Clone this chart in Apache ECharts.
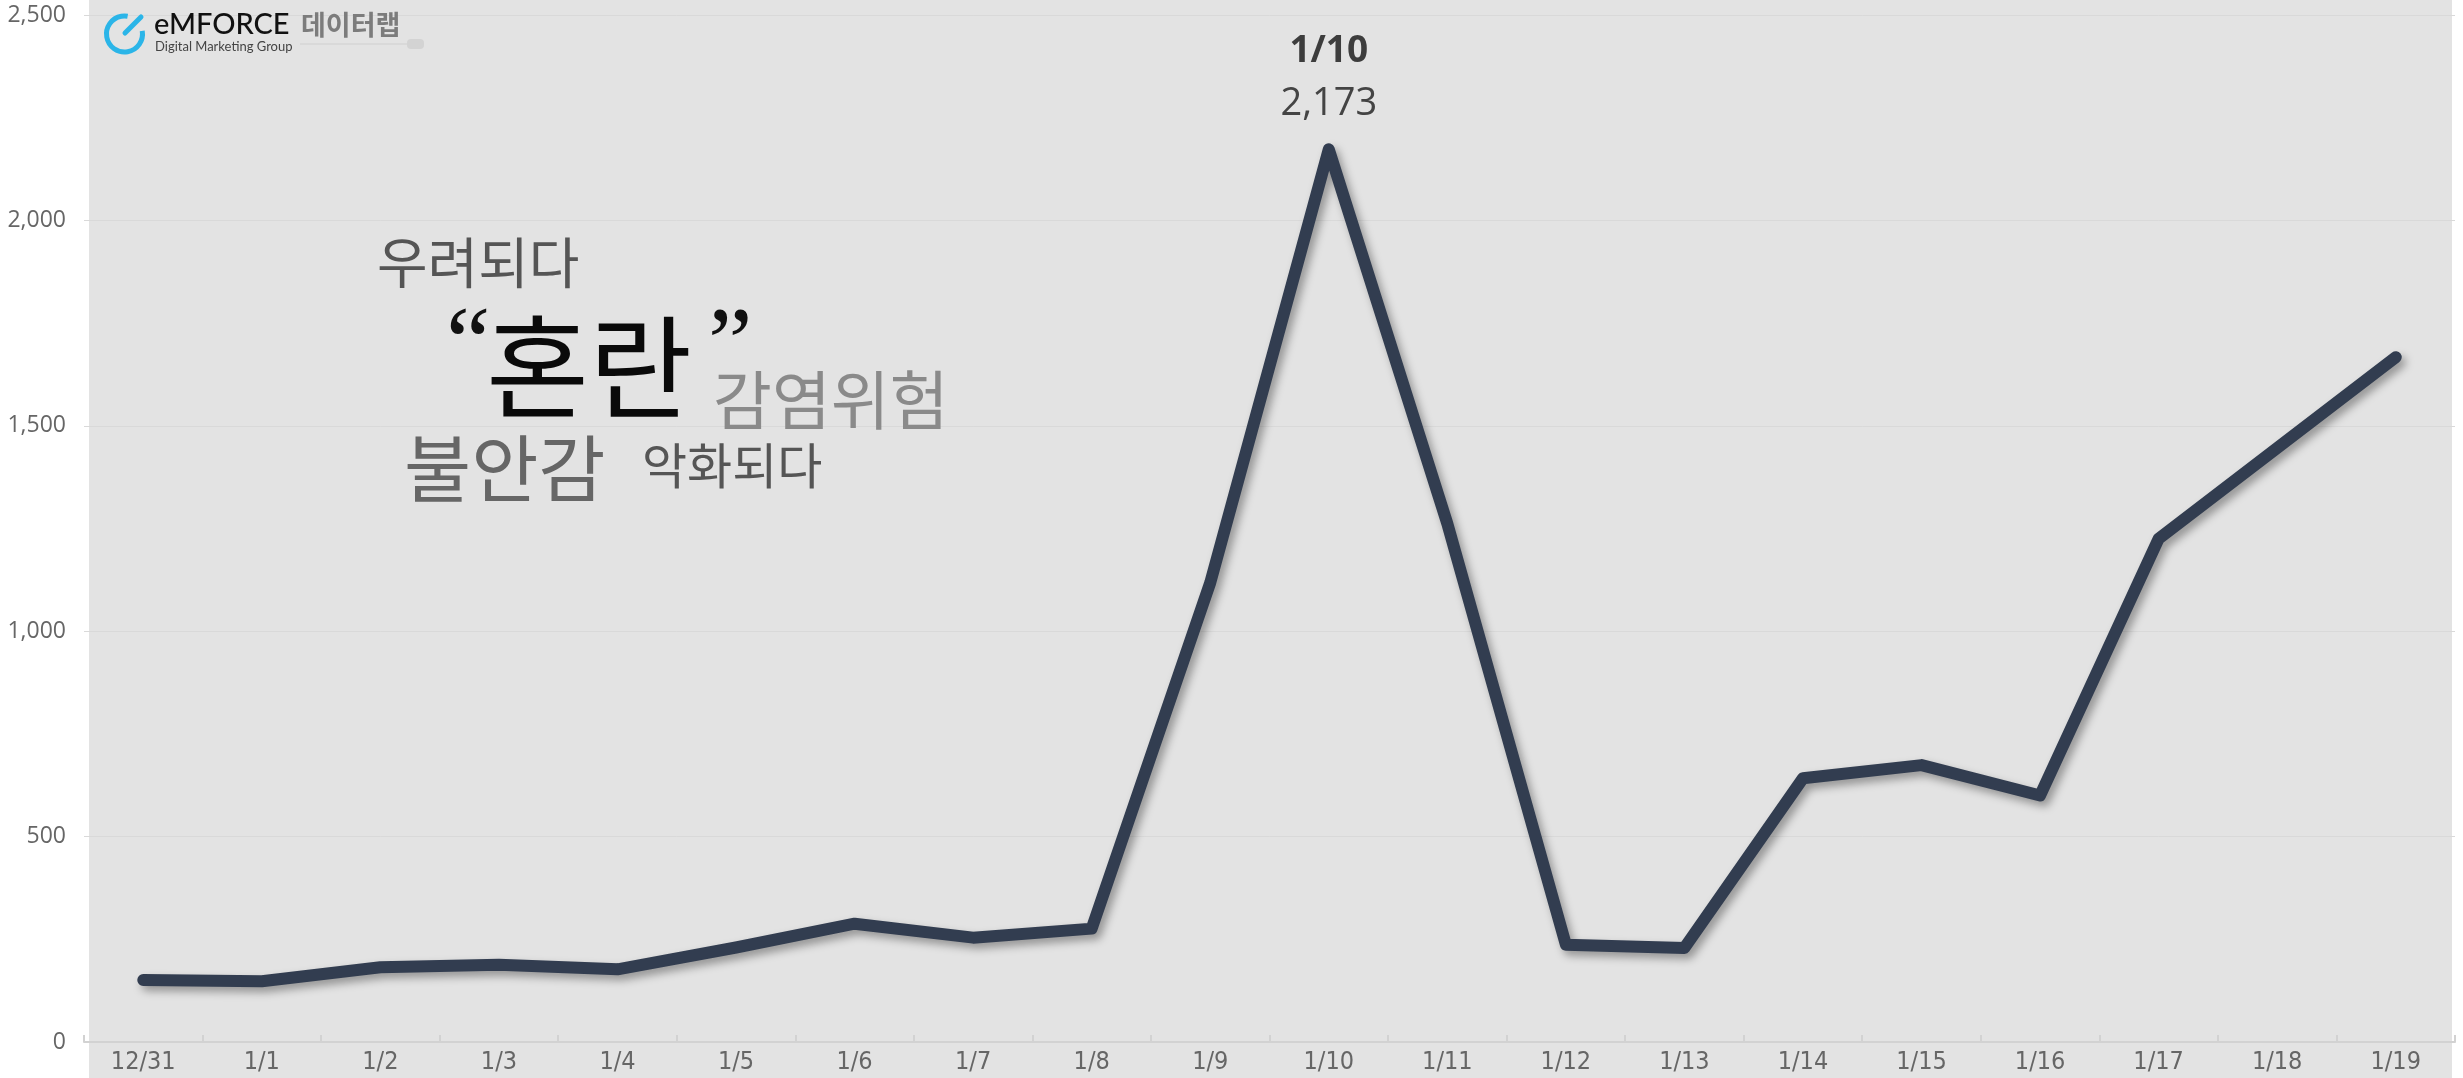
<!DOCTYPE html>
<html>
<head>
<meta charset="utf-8">
<script src="https://cdn.jsdelivr.net/npm/echarts@6/dist/echarts.min.js"></script>
<style>
html,body{margin:0;padding:0;background:#ffffff;}
#chart{width:2463px;height:1078px;}
</style>
</head>
<body>
<div id="chart"></div>
<script>
// ---- data ----
var categories = ['12/31','1/1','1/2','1/3','1/4','1/5','1/6','1/7','1/8','1/9','1/10','1/11','1/12','1/13','1/14','1/15','1/16','1/17','1/18','1/19'];
var mentions = [151, 148, 182, 188, 177, 230, 288, 254, 276, 1118, 2173, 1262, 237, 229, 642, 674, 600, 1225, 1446, 1667];
var yTicks = [0, 500, 1000, 1500, 2000, 2500];
var keywords = ['우려되다', '혼란', '감염위험', '불안감', '악화되다'];

var peakIdx = mentions.indexOf(Math.max.apply(null, mentions));
function fmt(v){ return v.toString().replace(/\B(?=(\d{3})+(?!\d))/g, ','); }

var chart = echarts.init(document.getElementById('chart'), null, {renderer: 'canvas'});
var option = {
  backgroundColor: '#ffffff',
  animation: false,
  grid: {left: 84, right: 8, top: 15, bottom: 36, containLabel: false, outerBoundsMode: 'none'},
  xAxis: {
    type: 'category',
    data: categories,
    boundaryGap: true,
    axisLine: {show: true, lineStyle: {color: '#d2d2d2', width: 2}},
    axisTick: {show: true, inside: true, length: 7, lineStyle: {color: '#d2d2d2', width: 2}},
    axisLabel: {interval: 0, margin: 8, color: '#666666', fontSize: 25, fontFamily: 'DejaVu Sans Condensed, Liberation Sans Narrow, Roboto, sans-serif', fontWeight: 'normal'}
  },
  yAxis: {
    type: 'value',
    min: yTicks[0],
    max: yTicks[yTicks.length - 1],
    interval: yTicks[1] - yTicks[0],
    axisLine: {show: false},
    axisTick: {show: false},
    axisLabel: {margin: 18, color: '#666666', fontSize: 23, fontFamily: 'Open Sans', formatter: function(v){ return fmt(v); }},
    splitLine: {show: true, lineStyle: {color: '#d9d9d9', width: 1}}
  },
  series: [{
    type: 'line',
    data: mentions,
    showSymbol: false,
    symbol: 'none',
    z: 5,
    lineStyle: {
      color: '#323d50', width: 12, cap: 'round', join: 'round',
      shadowColor: 'rgba(0,0,0,0.35)', shadowBlur: 8, shadowOffsetX: 4, shadowOffsetY: 5
    },
    emphasis: {disabled: true},
    markPoint: {
      silent: true,
      symbol: 'circle',
      symbolSize: 1,
      itemStyle: {color: 'rgba(0,0,0,0)'},
      data: [{
        coord: [peakIdx, mentions[peakIdx]],
        value: mentions[peakIdx],
        label: {
          show: true,
          position: 'top',
          distance: 18,
          formatter: function(){ return '{d|' + categories[peakIdx] + '}\n{v|' + fmt(mentions[peakIdx]) + '}'; },
          rich: {
            d: {fontFamily: 'Open Sans', fontWeight: 'bold', fontSize: 37, color: '#3d3d3d', lineHeight: 53, align: 'center'},
            v: {fontFamily: 'Open Sans', fontSize: 38, color: '#444444', lineHeight: 53, align: 'center'}
          }
        }
      }]
    }
  }],
  graphic: [
    {type: 'rect', silent: true, z: -100, shape: {x: 89, y: 0, width: 2363, height: 1078}, style: {fill: '#e3e3e3'}},
    // logo
    {type: 'arc', silent: true, z: 10, shape: {cx: 124.5, cy: 34, r: 18, startAngle: -10 * Math.PI / 180, endAngle: 280 * Math.PI / 180, clockwise: true}, style: {stroke: '#2bb5e8', lineWidth: 5, fill: null}},
    {type: 'line', silent: true, z: 10, shape: {x1: 125, y1: 33, x2: 141, y2: 17}, style: {stroke: '#2bb5e8', lineWidth: 5, lineCap: 'round'}},
    {type: 'text', silent: true, z: 10, x: 154, y: 25, style: {text: 'eMFORCE', font: '500 29px Lato', fill: '#111111', align: 'left', verticalAlign: 'middle'}},
    {type: 'text', silent: true, z: 10, x: 155, y: 47, style: {text: 'Digital Marketing Group', font: '13px Lato', fill: '#444444', align: 'left', verticalAlign: 'middle'}},
    {type: 'text', silent: true, z: 10, x: 301, y: 25, style: {text: '데이터랩', font: 'bold 27px "Noto Sans CJK KR"', fill: '#7c7c7c', align: 'left', verticalAlign: 'middle'}},
    {type: 'line', silent: true, z: 10, shape: {x1: 300, y1: 44, x2: 410, y2: 44}, style: {stroke: '#cfcfcf', lineWidth: 1}},
    {type: 'rect', silent: true, z: 10, shape: {x: 407, y: 39, width: 17, height: 10, r: 4}, style: {fill: '#d3d3d3'}},
    // keyword annotations
    {type: 'text', silent: true, z: 10, x: 377, y: 262, style: {text: keywords[0], font: '55px "Noto Sans CJK KR"', fill: '#555555', align: 'left', verticalAlign: 'middle'}},
    {type: 'text', silent: true, z: 10, x: 446, y: 349, style: {text: '“', font: '100px "Liberation Serif"', fill: '#111111', align: 'left', verticalAlign: 'middle'}},
    {type: 'text', silent: true, z: 10, x: 486, y: 367, style: {text: keywords[1], font: '112px "Noto Sans CJK KR"', fill: '#0a0a0a', align: 'left', verticalAlign: 'middle'}},
    {type: 'text', silent: true, z: 10, x: 708, y: 349, style: {text: '”', font: '100px "Liberation Serif"', fill: '#111111', align: 'left', verticalAlign: 'middle'}},
    {type: 'text', silent: true, z: 10, x: 713, y: 400, style: {text: keywords[2], font: '64px "Noto Sans CJK KR"', fill: '#8a8a8a', align: 'left', verticalAlign: 'middle'}},
    {type: 'text', silent: true, z: 10, x: 404, y: 468, style: {text: keywords[3], font: '73px "Noto Sans CJK KR"', fill: '#666666', align: 'left', verticalAlign: 'middle'}},
    {type: 'text', silent: true, z: 10, x: 642, y: 465, style: {text: keywords[4], font: '49px "Noto Sans CJK KR"', fill: '#555555', align: 'left', verticalAlign: 'middle'}}
  ]
};
chart.setOption(option);
</script>
</body>
</html>
